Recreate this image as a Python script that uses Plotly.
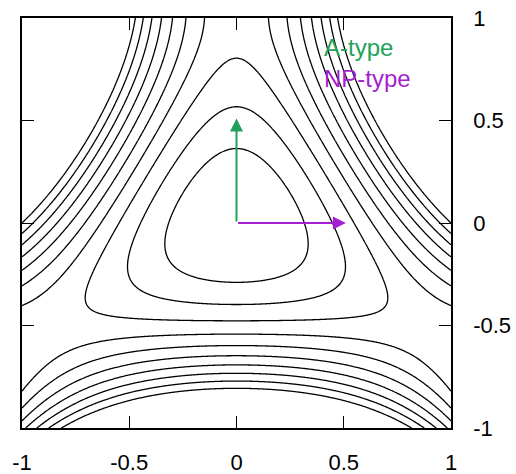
import numpy as np
import plotly.graph_objects as go

# Hénon–Heiles potential V = (x^2+y^2)/2 + x^2 y - y^3/3, contour levels
contour_levels = [0.05, 0.10, 0.15, 0.20, 0.25, 0.30, 0.35, 0.40, 0.45, 0.50]
grid_x = np.linspace(-1.0, 1.0, 401)
grid_y = np.linspace(-1.0, 1.0, 401)
arrow_labels = ["A-type", "NP-type"]
arrow_tips = [(0.0, 0.51), (0.51, 0.0)]
arrow_colors = ["#23a05a", "#a41fd0"]
tick_vals = [-1, -0.5, 0, 0.5, 1]
tick_text = ["-1", "-0.5", "0", "0.5", "1"]

X, Y = np.meshgrid(grid_x, grid_y)
Z = 0.5 * (X**2 + Y**2) + X**2 * Y - Y**3 / 3.0

fig = go.Figure()
fig.add_trace(go.Contour(
    x=grid_x, y=grid_y, z=Z,
    contours=dict(start=contour_levels[0], end=contour_levels[-1],
                  size=contour_levels[1] - contour_levels[0], coloring="lines"),
    line=dict(color="black", width=1.3),
    colorscale=[[0, "black"], [1, "black"]],
    showscale=False, hoverinfo="skip",
))

for (tx, ty), col in zip(arrow_tips, arrow_colors):
    fig.add_annotation(x=tx, y=ty, ax=0, ay=0, xref="x", yref="y",
                       axref="x", ayref="y", text="", showarrow=True,
                       arrowhead=2, arrowsize=1.3, arrowwidth=2, arrowcolor=col,
                       standoff=0, startstandoff=0)

label_pos = [(0.40, 0.855), (0.40, 0.705)]
for (lx, ly), txt, col in zip(label_pos, arrow_labels, arrow_colors):
    fig.add_annotation(x=lx, y=ly, xref="x", yref="y", text=txt, showarrow=False,
                       xanchor="left", yanchor="middle",
                       font=dict(family="Liberation Sans, Arial, sans-serif", size=24, color=col))

axis_common = dict(range=[-1, 1], showgrid=False, zeroline=False, showline=True,
                   linecolor="black", linewidth=1.5, mirror="ticks", ticks="inside",
                   ticklen=12, tickwidth=1.2, tickcolor="black",
                   tickvals=tick_vals, ticktext=tick_text, automargin=False,
                   tickfont=dict(family="Liberation Sans, Arial, sans-serif", size=22, color="black"))

fig.update_xaxes(**axis_common, ticklabelstandoff=14)
fig.update_yaxes(**axis_common, side="right", ticklabelstandoff=16)

fig.update_layout(width=516, height=474, margin=dict(l=22, r=65, t=18, b=46),
                  plot_bgcolor="white", paper_bgcolor="white", showlegend=False)

fig.write_html("out.html")
